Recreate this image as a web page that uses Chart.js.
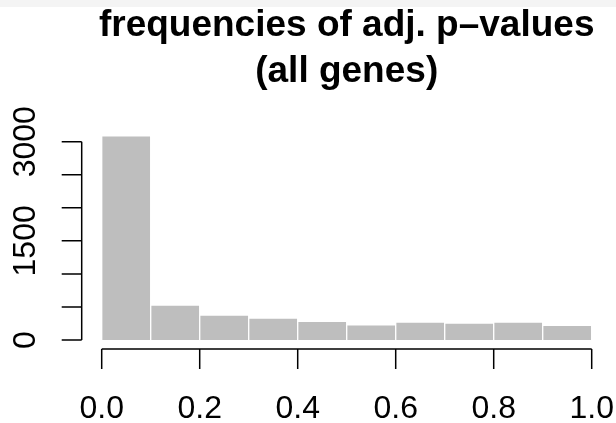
<!DOCTYPE html>
<html>
<head>
<meta charset="utf-8">
<script src="https://cdn.jsdelivr.net/npm/chart.js@4.4.1/dist/chart.umd.min.js"></script>
<style>
  body { margin: 0; background: #fff; }
  canvas { display: block; }
</style>
</head>
<body>
<canvas id="hist" width="616" height="423"></canvas>
<script>
// histogram bins of adjusted p-values (width 0.1)
const binMids = [0.05, 0.15, 0.25, 0.35, 0.45, 0.55, 0.65, 0.75, 0.85, 0.95];
const counts = [3090, 530, 378, 333, 283, 231, 272, 257, 272, 222];
const xTicks = [0, 0.2, 0.4, 0.6, 0.8, 1.0];
const yTicks = [0, 500, 1000, 1500, 2000, 2500, 3000];
const yLabels = [0, 1500, 3000];
const titleLines = ['frequencies of adj. p\u2013values', '(all genes)'];

const FONT = '"Liberation Sans", Arial, Helvetica, sans-serif';

// base-graphics style axes: detached from the bars, drawn from the scales
const rAxes = {
  id: 'rAxes',
  beforeDraw(chart) {
    const ctx = chart.ctx;
    ctx.save();
    ctx.fillStyle = '#f4f4f4';
    ctx.fillRect(0, 0, chart.width, 7);
    ctx.restore();
  },
  afterDraw(chart) {
    const ctx = chart.ctx;
    const xs = chart.scales.x, ys = chart.scales.y;
    ctx.save();
    ctx.strokeStyle = '#000';
    ctx.lineWidth = 1.5;
    ctx.fillStyle = '#000';

    // x axis
    const axY = ys.getPixelForValue(0) + 9;
    ctx.beginPath();
    ctx.moveTo(xs.getPixelForValue(xTicks[0]), axY);
    ctx.lineTo(xs.getPixelForValue(xTicks[xTicks.length - 1]), axY);
    xTicks.forEach(v => {
      const px = xs.getPixelForValue(v);
      ctx.moveTo(px, axY);
      ctx.lineTo(px, axY + 20);
    });
    ctx.stroke();
    ctx.font = '32px ' + FONT;
    ctx.textAlign = 'center';
    ctx.textBaseline = 'alphabetic';
    xTicks.forEach(v => {
      ctx.fillText(v.toFixed(1), xs.getPixelForValue(v), 418);
    });

    // y axis
    const axX = xs.getPixelForValue(0) - 20;
    ctx.beginPath();
    ctx.moveTo(axX, ys.getPixelForValue(yTicks[0]));
    ctx.lineTo(axX, ys.getPixelForValue(yTicks[yTicks.length - 1]));
    yTicks.forEach(v => {
      const py = ys.getPixelForValue(v);
      ctx.moveTo(axX, py);
      ctx.lineTo(axX - 20, py);
    });
    ctx.stroke();
    yLabels.forEach(v => {
      ctx.save();
      ctx.translate(35, ys.getPixelForValue(v));
      ctx.rotate(-Math.PI / 2);
      ctx.textAlign = 'center';
      ctx.fillText(String(v), 0, 0);
      ctx.restore();
    });

    // title
    ctx.font = 'bold 37px ' + FONT;
    ctx.textAlign = 'center';
    const cx = (xs.left + xs.right) / 2;
    ctx.fillText(titleLines[0], cx, 36);
    ctx.fillText(titleLines[1], cx, 82);
    ctx.restore();
  }
};

new Chart(document.getElementById('hist'), {
  type: 'bar',
  data: {
    datasets: [{
      data: binMids.map((m, i) => ({x: m, y: counts[i]})),
      backgroundColor: '#bebebe',
      borderColor: '#ffffff',
      borderWidth: 1,
      borderSkipped: 'start',
      barPercentage: 1,
      categoryPercentage: 1
    }]
  },
  options: {
    responsive: false,
    animation: false,
    layout: {
      padding: {left: 101.7, right: 24.3, top: 128.5, bottom: 83}
    },
    scales: {
      x: {type: 'linear', min: 0, max: 1, display: false, offset: false},
      y: {min: 0, max: 3200, display: false}
    },
    plugins: {
      legend: {display: false},
      tooltip: {enabled: false}
    }
  },
  plugins: [rAxes]
});
</script>
</body>
</html>
